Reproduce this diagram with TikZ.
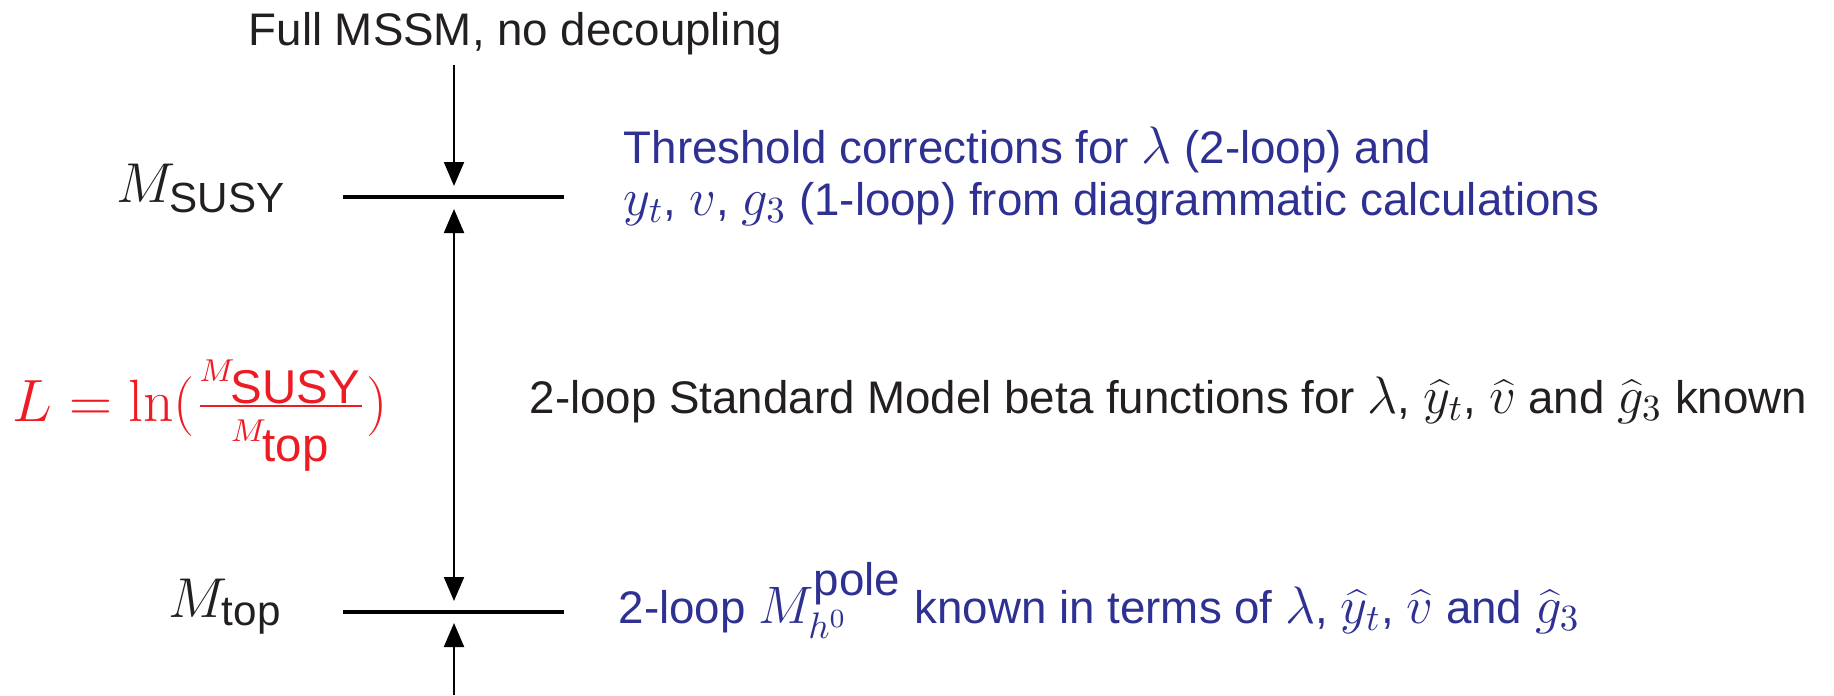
\RequirePackage{fix-cm}
\documentclass[tikz,border=0pt]{standalone}
\usepackage[no-math]{fontspec}
\setmainfont{Liberation Sans}
\usetikzlibrary{positioning,arrows.meta}
\definecolor{scblue}{HTML}{2E3192}
\definecolor{scred}{HTML}{ED1C24}
\definecolor{scink}{HTML}{231F20}
% math a bit larger than the sans text, as in the slide
\DeclareMathSizes{13}{15}{10.5}{7.5}
\DeclareMathSizes{12}{16}{10}{7.5}
\DeclareMathSizes{13.5}{17}{9}{7}

\begin{document}
\begin{tikzpicture}[
      font=\fontsize{13}{14.7}\selectfont,
      inner sep=0pt,
      scaleline/.style={line width=1.2pt},
      arr/.style={-{Triangle[length=2.4mm,width=2mm]}, line width=0.6pt},
      lvl/.style={anchor=base east, text=scink, font=\fontsize{12}{14.4}\selectfont},
      note/.style={anchor=base west, align=left, text=scblue},
      plain/.style={anchor=base west, text=scink}
    ]
    \useasboundingbox (0,0) rectangle (18.34,6.95);
    % ------------- scale axis -------------
    \coordinate (start) at (4.54,6.30);
    \coordinate (susyin) at (4.54,5.09);
    \coordinate (susyL) at (3.43,4.98);
    \coordinate (susyR) at (5.64,4.98);
    \coordinate (susyout) at (4.54,4.86);
    \coordinate (topin) at (4.54,0.94);
    \coordinate (topL) at (3.43,0.83);
    \coordinate (topR) at (5.64,0.83);
    \coordinate (topout) at (4.54,0.72);
    \coordinate (below) at (4.54,0);
    \draw[scaleline] (susyL) -- (susyR);
    \draw[scaleline] (topL) -- (topR);
    \draw[arr] (start) -- (susyin);
    \draw[arr, {Triangle[length=2.4mm,width=2mm]}-{Triangle[length=2.4mm,width=2mm]}] (susyout) -- (topin);
    \draw[arr] (below) -- (topout);
    % ------------- labels -------------
    \node[plain] (full) at (2.48,6.50) {Full MSSM, no decoupling};
    \node[lvl] (lsusy) at (2.87,4.93) {$M_{\mbox{SUSY}}$};
    \node[lvl] (ltop) at (2.83,0.78) {$M_{\mbox{top}}$};
    \node[anchor=base west, text=scred, font=\fontsize{13.5}{15}\selectfont] (lratio) at (0.12,2.74)
      {$L=\ln(\frac{M_{\mbox{SUSY}}}{M_{\mbox{top}}})$};
    % ------------- descriptions -------------
    \node[note] (thresh) at (6.23,4.80)
      {Threshold corrections for $\lambda$ (2-loop) and\\
       $y_t$, $v$, $g_3$ (1-loop) from diagrammatic calculations};
    \node[plain] (beta) at (5.29,2.82)
      {2-loop Standard Model beta functions for $\lambda$, $\widehat{y}_t$, $\widehat{v}$ and $\widehat{g}_3$ known};
    \node[note] (pole) at (6.18,0.72)
      {2-loop $M_{h^0}^{\mbox{pole}}$ known in terms of $\lambda$, $\widehat{y}_t$, $\widehat{v}$ and $\widehat{g}_3$};
  \end{tikzpicture}
\end{document}
